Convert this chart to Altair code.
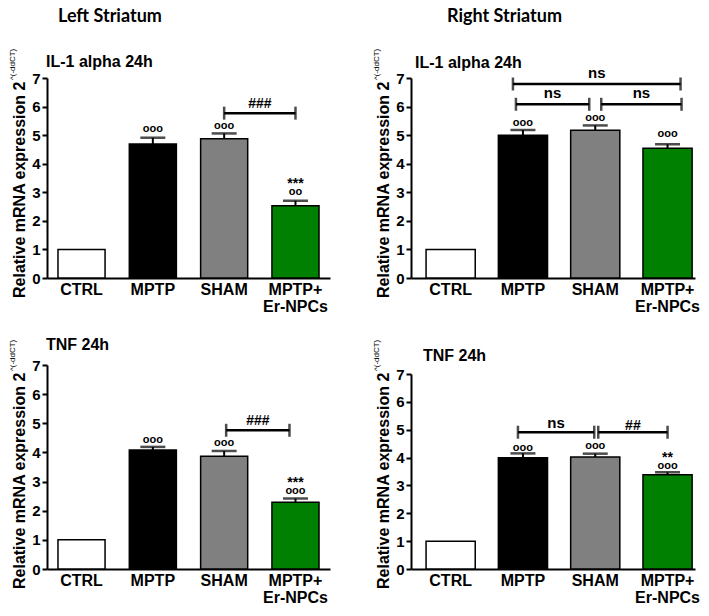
import altair as alt
import pandas as pd

# ---------------- data ----------------
groups = ["CTRL", "MPTP", "SHAM", "MPTP+ Er-NPCs"]
bar_fills = ["#ffffff", "#000000", "#808080", "#008000"]

il1_left_mean = [1.00, 4.69, 4.87, 2.53]
il1_left_sem = [0.00, 0.22, 0.19, 0.17]
il1_right_mean = [1.00, 5.00, 5.17, 4.54]
il1_right_sem = [0.00, 0.18, 0.17, 0.14]
tnf_left_mean = [1.00, 4.08, 3.87, 2.29]
tnf_left_sem = [0.00, 0.11, 0.18, 0.13]
tnf_right_mean = [1.00, 3.99, 4.02, 3.38]
tnf_right_sem = [0.00, 0.16, 0.12, 0.09]

# significance symbols over bars: (group, y value, symbol)
il1_left_marks = [("MPTP", 5.20, "ooo"), ("SHAM", 5.33, "ooo"),
                  ("MPTP+ Er-NPCs", 3.02, "oo"), ("MPTP+ Er-NPCs", 3.41, "***")]
il1_right_marks = [("MPTP", 5.41, "ooo"), ("SHAM", 5.59, "ooo"),
                   ("MPTP+ Er-NPCs", 5.05, "ooo")]
tnf_left_marks = [("MPTP", 4.44, "ooo"), ("SHAM", 4.31, "ooo"),
                  ("MPTP+ Er-NPCs", 2.67, "ooo"), ("MPTP+ Er-NPCs", 3.07, "***")]
tnf_right_marks = [("MPTP", 4.36, "ooo"), ("SHAM", 4.40, "ooo"),
                   ("MPTP+ Er-NPCs", 3.69, "ooo"), ("MPTP+ Er-NPCs", 4.08, "**")]

# comparison brackets: (from group, to group, y value, label)
il1_left_brackets = [("SHAM", "MPTP+ Er-NPCs", 5.77, "###")]
il1_right_brackets = [("MPTP", "MPTP+ Er-NPCs", 6.79, "ns"),
                      ("MPTP", "SHAM", 6.08, "ns"),
                      ("SHAM", "MPTP+ Er-NPCs", 6.08, "ns")]
tnf_left_brackets = [("SHAM", "MPTP+ Er-NPCs", 4.76, "###")]
tnf_right_brackets = [("MPTP", "SHAM", 4.91, "ns"),
                      ("SHAM", "MPTP+ Er-NPCs", 4.91, "##")]

y_ticks = [0, 1, 2, 3, 4, 5, 6, 7]

# ---------------- styling (pixel nudges, not data) ----------------
# per bracket: (start x nudge, end x nudge, label dy)
il1_left_bstyle = [(0, 0, -5)]
il1_right_bstyle = [(-10, 13, -6), (-7, -6, -6), (6, 14, -6)]
tnf_left_bstyle = [(2, -6, -5)]
tnf_right_bstyle = [(-5, -1, -4), (3, 0, -2)]

FONT = "Liberation Sans"
HFONT = "Lato"
MAIN_TITLE = "Relative mRNA expression 2"
SUP_TITLE = "^(-ddCT)"
MAIN_TITLE_EM = 13.56  # approx. em-width of MAIN_TITLE in Arial bold


def one(text):
    return pd.DataFrame({"t": [text]})


def panel(means, sems, marks, brackets, bstyle, title, title_x, title_y,
          header, header_x, w, h, pi, po, al):
    n = len(groups)
    step = w / (n - pi + 2 * po)
    df = pd.DataFrame({
        "group": groups,
        "mean": means,
        "sem": sems,
        "top": [m + s for m, s in zip(means, sems)],
    })
    xs = alt.Scale(domain=groups, paddingInner=pi, paddingOuter=po, align=al)
    ys = alt.Scale(domain=[0, 7], nice=False, zero=True)

    x_axis = alt.Axis(
        title=None, labelAngle=0, ticks=False, domainWidth=2, domainColor="black",
        labelFont=FONT, labelFontSize=16, labelFontWeight="bold", labelColor="black",
        labelPadding=3, labelLineHeight=17, labelBaseline="top",
        labelExpr="datum.value == 'MPTP+ Er-NPCs' ? ['MPTP+', 'Er-NPCs'] : datum.label",
    )
    y_axis = alt.Axis(
        title=None, values=y_ticks, format="d", grid=False, domainWidth=2,
        domainColor="black", tickWidth=2, tickSize=5, tickColor="black",
        labelFont=FONT, labelFontSize=15, labelFontWeight="bold", labelColor="black",
        labelPadding=2,
    )

    def X(field="group"):
        return alt.X(f"{field}:N", scale=xs, axis=x_axis)

    def Y(field):
        return alt.Y(f"{field}:Q", scale=ys, axis=y_axis)

    base = alt.Chart(df)
    bars = base.mark_bar(stroke="black", strokeWidth=1.5).encode(
        x=X(), y=Y("mean"),
        fill=alt.Fill("group:N", scale=alt.Scale(domain=groups, range=bar_fills), legend=None),
    )
    err_df = df[df["sem"] > 0]
    err = alt.Chart(err_df).mark_rule(color="black", strokeWidth=2).encode(
        x=X(), y=Y("mean"), y2="top:Q")
    caps = alt.Chart(err_df).mark_tick(color="black", size=25, thickness=2.5).encode(
        x=X(), y=Y("top"))

    mdf = pd.DataFrame(marks, columns=["group", "y", "sym"])
    circ = alt.Chart(mdf[mdf["sym"].str.startswith("o")]).mark_text(
        font=FONT, fontSize=11, fontWeight="bold", color="black", baseline="middle"
    ).encode(x=X(), y=Y("y"), text="sym:N")
    star = alt.Chart(mdf[mdf["sym"].str.startswith("*")]).mark_text(
        font=FONT, fontSize=14, fontWeight="bold", color="black", baseline="middle", dy=3
    ).encode(x=X(), y=Y("y"), text="sym:N")

    layers = [bars, err, caps, circ, star]

    for (g1, g2, yv, lab), (d1, d2, ldy) in zip(brackets, bstyle):
        bdf = pd.DataFrame({"g1": [g1], "g2": [g2], "y": [yv], "lab": [lab]})
        k = groups.index(g2) - groups.index(g1)
        bc = alt.Chart(bdf)
        layers.append(bc.mark_rule(color="black", strokeWidth=2.5, xOffset=d1, x2Offset=d2).encode(
            x=alt.X("g1:N", scale=xs, axis=x_axis, bandPosition=0.5),
            x2=alt.X2("g2:N", bandPosition=0.5),
            y=Y("y")))
        layers.append(bc.mark_tick(color="black", orient="vertical", size=13, thickness=2.5,
                                   xOffset=d1).encode(x=X("g1"), y=Y("y")))
        layers.append(bc.mark_tick(color="black", orient="vertical", size=13, thickness=2.5,
                                   xOffset=d2).encode(x=X("g2"), y=Y("y")))
        mid = d1 + (k * step + d2 - d1) / 2
        layers.append(bc.mark_text(font=FONT, fontSize=15 if lab == "ns" else 14,
                                   fontWeight="bold", color="black", baseline="alphabetic",
                                   xOffset=mid, dy=ldy).encode(
            x=X("g1"), y=Y("y"), text="lab:N"))

    # panel title
    layers.append(alt.Chart(one(title)).mark_text(
        font=FONT, fontSize=16, fontWeight="bold", color="black", align="left",
        baseline="middle").encode(x=alt.value(title_x), y=alt.value(title_y), text="t:N"))
    # y-axis title with superscript
    main_start = h + 20
    layers.append(alt.Chart(one(MAIN_TITLE)).mark_text(
        font=FONT, fontSize=16, fontWeight="bold", color="black", align="left",
        baseline="middle", angle=270).encode(x=alt.value(-27), y=alt.value(main_start), text="t:N"))
    layers.append(alt.Chart(one(SUP_TITLE)).mark_text(
        font=FONT, fontSize=8, color="black", align="left",
        baseline="middle", angle=270).encode(
        x=alt.value(-34), y=alt.value(main_start - MAIN_TITLE_EM * 16 - 1), text="t:N"))
    if header:
        layers.append(alt.Chart(one(header)).mark_text(
            font=HFONT, fontSize=18, fontWeight="bold", color="black", align="left",
            baseline="alphabetic").encode(x=alt.value(header_x), y=alt.value(-56), text="t:N"))

    return alt.layer(*layers).properties(width=w, height=h)


LW, RW = 283, 284
p1 = panel(il1_left_mean, il1_left_sem, il1_left_marks, il1_left_brackets, il1_left_bstyle,
           "IL-1 alpha 24h", -1, -16, "Left Striatum", 11, LW, 200, 0.34, 0.154, 0.5)
p3 = panel(tnf_left_mean, tnf_left_sem, tnf_left_marks, tnf_left_brackets, tnf_left_bstyle,
           "TNF 24h", -1, -20, None, 0, LW, 204, 0.34, 0.154, 0.5)
p2 = panel(il1_right_mean, il1_right_sem, il1_right_marks, il1_right_brackets, il1_right_bstyle,
           "IL-1 alpha 24h", 4, -15, "Right Striatum", 36, RW, 200, 0.32, 0.124, 0.84)
p4 = panel(tnf_right_mean, tnf_right_sem, tnf_right_marks, tnf_right_brackets, tnf_right_bstyle,
           "TNF 24h", 12, -18, None, 0, RW, 195, 0.32, 0.124, 0.84)

left_col = alt.vconcat(p1, p3, spacing=23)
right_col = alt.vconcat(p2, p4, spacing=25)
chart = alt.hconcat(left_col, right_col, spacing=42).properties(
    padding=0, background="white"
).configure_view(stroke=None)

chart.save("out.html", embed_options={"renderer": "svg", "actions": False})
